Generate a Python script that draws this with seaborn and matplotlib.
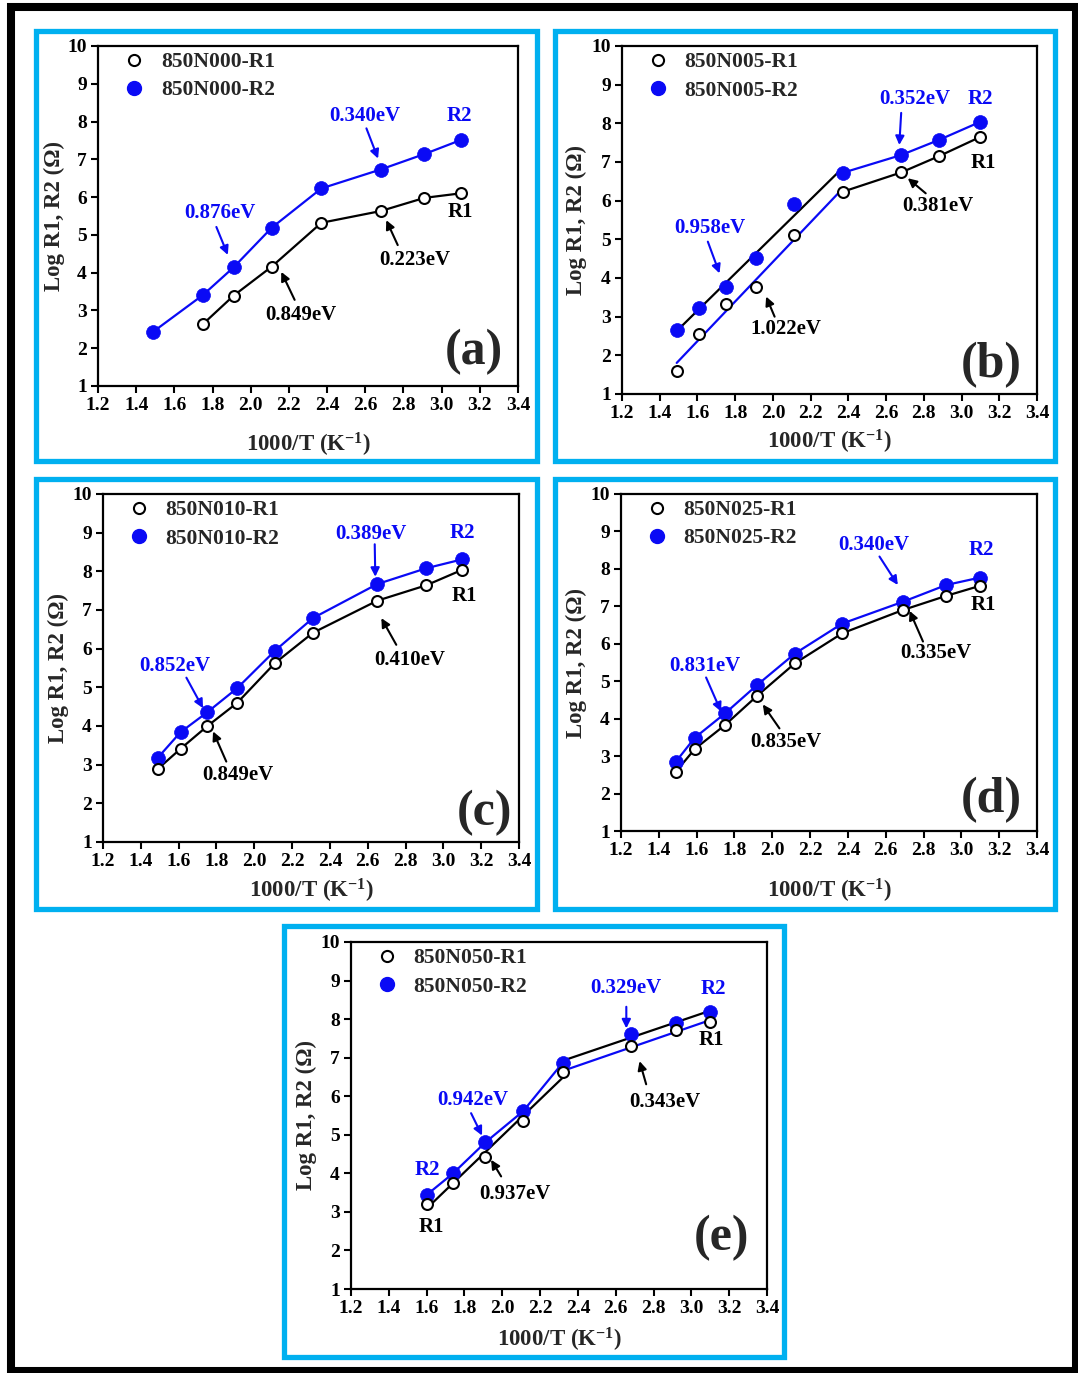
import numpy as np
import matplotlib
matplotlib.use("Agg")
import matplotlib.pyplot as plt
from matplotlib.patches import Rectangle
from matplotlib.lines import Line2D
import seaborn as sns

# ---------------- data ----------------
a_x_R1 = [1.75, 1.91, 2.11, 2.37, 2.68, 2.91, 3.10]
a_R1 = [2.64, 3.39, 4.16, 5.32, 5.63, 5.98, 6.10]
a_x_R2 = [1.49, 1.75, 1.91, 2.11, 2.37, 2.68, 2.91, 3.10]
a_R2 = [2.44, 3.41, 4.14, 5.19, 6.23, 6.73, 7.14, 7.51]

b_x = [1.49, 1.61, 1.75, 1.91, 2.11, 2.37, 2.68, 2.88, 3.10]
b_R1 = [1.60, 2.56, 3.33, 3.78, 5.11, 6.23, 6.73, 7.15, 7.65]
b_R2 = [2.66, 3.22, 3.78, 4.51, 5.91, 6.72, 7.18, 7.57, 8.04]

c_x = [1.49, 1.61, 1.75, 1.91, 2.11, 2.31, 2.65, 2.91, 3.10]
c_R1 = [2.89, 3.41, 3.99, 4.60, 5.63, 6.41, 7.24, 7.64, 8.04]
c_R2 = [3.18, 3.84, 4.35, 4.98, 5.95, 6.79, 7.67, 8.08, 8.31]

d_x = [1.49, 1.59, 1.75, 1.92, 2.12, 2.37, 2.69, 2.92, 3.10]
d_R1 = [2.58, 3.19, 3.83, 4.61, 5.48, 6.28, 6.90, 7.28, 7.55]
d_R2 = [2.85, 3.49, 4.14, 4.90, 5.74, 6.54, 7.12, 7.57, 7.77]

e_x = [1.60, 1.74, 1.91, 2.11, 2.32, 2.68, 2.92, 3.10]
e_R1 = [3.20, 3.74, 4.43, 5.36, 6.63, 7.30, 7.71, 7.93]
e_R2 = [3.44, 4.00, 4.80, 5.61, 6.87, 7.62, 7.91, 8.18]

sample_names = ["850N000", "850N005", "850N010", "850N025", "850N050"]
panel_letters = ["(a)", "(b)", "(c)", "(d)", "(e)"]
x_ticks = [1.2, 1.4, 1.6, 1.8, 2.0, 2.2, 2.4, 2.6, 2.8, 3.0, 3.2, 3.4]
y_ticks = [1, 2, 3, 4, 5, 6, 7, 8, 9, 10]

series = [
    dict(xR1=a_x_R1, R1=a_R1, xR2=a_x_R2, R2=a_R2),
    dict(xR1=b_x, R1=b_R1, xR2=b_x, R2=b_R2),
    dict(xR1=c_x, R1=c_R1, xR2=c_x, R2=c_R2),
    dict(xR1=d_x, R1=d_R1, xR2=d_x, R2=d_R2),
    dict(xR1=e_x, R1=e_R1, xR2=e_x, R2=e_R2),
]

# ---------------- styles / layout ----------------
BLUE = "#0a0af5"
CYAN = "#00b0f0"
W, H = 1078, 1373

# line segments: (series, xmin, xmax, colour, kind)
segments = [
    [("R1", 1.0, 3.5, "black", "line"), ("R2", 1.0, 3.5, BLUE, "line")],
    [("R2", 1.4, 2.4, "black", "fit"), ("R1", 1.4, 2.4, BLUE, "fit"),
     ("R2", 2.3, 3.2, BLUE, "line"), ("R1", 2.3, 3.2, "black", "line")],
    [("R1", 1.0, 3.5, "black", "line"), ("R2", 1.0, 3.5, BLUE, "line")],
    [("R1", 1.0, 3.5, "black", "line"), ("R2", 1.0, 3.5, BLUE, "line")],
    [("R1", 1.5, 2.35, "black", "fit"), ("R2", 1.5, 2.35, BLUE, "line"),
     ("R2", 2.3, 3.2, "black", "fit"), ("R1", 2.3, 3.2, BLUE, "fit")],
]

# annotations: (text, tx, ty, colour, arrow_tail, arrow_head)
annotations = [
    [("0.876eV", 1.837, 5.59, BLUE, (1.82, 5.21), (1.88, 4.47)),
     ("0.340eV", 2.597, 8.14, BLUE, (2.606, 7.82), (2.667, 7.02)),
     ("R2", 3.095, 8.14, BLUE, None, None),
     ("R1", 3.10, 5.61, "black", None, None),
     ("0.223eV", 2.859, 4.33, "black", (2.77, 4.73), (2.71, 5.39)),
     ("0.849eV", 2.265, 2.88, "black", (2.23, 3.28), (2.16, 4.02))],
    [("0.958eV", 1.664, 5.29, BLUE, (1.655, 4.94), (1.717, 4.12)),
     ("0.352eV", 2.75, 8.64, BLUE, (2.68, 8.27), (2.67, 7.44)),
     ("R2", 3.098, 8.64, BLUE, None, None),
     ("R1", 3.115, 6.98, "black", None, None),
     ("0.381eV", 2.874, 5.86, "black", (2.81, 6.19), (2.715, 6.58)),
     ("1.022eV", 2.07, 2.68, "black", (2.009, 3.0), (1.964, 3.52))],
    [("0.852eV", 1.579, 5.56, BLUE, (1.641, 5.25), (1.729, 4.46)),
     ("0.389eV", 2.619, 8.96, BLUE, (2.637, 8.70), (2.64, 7.86)),
     ("R2", 3.098, 8.98, BLUE, None, None),
     ("R1", 3.109, 7.37, "black", None, None),
     ("0.410eV", 2.822, 5.71, "black", (2.751, 6.10), (2.672, 6.79)),
     ("0.849eV", 1.914, 2.74, "black", (1.852, 3.08), (1.782, 3.86))],
    [("0.831eV", 1.641, 5.41, BLUE, (1.65, 5.10), (1.729, 4.19)),
     ("0.340eV", 2.535, 8.64, BLUE, (2.567, 8.33), (2.664, 7.57)),
     ("R2", 3.105, 8.51, BLUE, None, None),
     ("R1", 3.114, 7.04, "black", None, None),
     ("0.335eV", 2.867, 5.75, "black", (2.797, 6.06), (2.726, 6.88)),
     ("0.835eV", 2.073, 3.39, "black", (2.038, 3.74), (1.95, 4.38))],
    [("0.942eV", 1.844, 5.90, BLUE, (1.835, 5.56), (1.893, 4.98)),
     ("0.329eV", 2.656, 8.81, BLUE, (2.656, 8.32), (2.656, 7.76)),
     ("R2", 3.114, 8.79, BLUE, None, None),
     ("R2", 1.602, 4.09, BLUE, None, None),
     ("R1", 1.623, 2.60, "black", None, None),
     ("R1", 3.105, 7.45, "black", None, None),
     ("0.343eV", 2.858, 5.86, "black", (2.761, 6.31), (2.726, 6.91)),
     ("0.937eV", 2.065, 3.46, "black", (1.994, 3.92), (1.941, 4.35))],
]
letter_pos = [(3.17, 1.91), (3.157, 1.76), (3.218, 1.75), (3.158, 1.83), (3.158, 2.32)]

# axes pixel rects: left, right, top, bottom
ax_px = [(98, 518, 46, 386), (622, 1037, 46, 394), (103, 519, 494, 842),
         (621, 1037, 494, 831), (351, 767, 942, 1289)]
box_px = [(36, 537, 31, 461), (555, 1055, 31, 461), (36, 537, 479, 909),
          (555, 1055, 479, 909), (284, 784, 926, 1357)]
xlabel_y_px = [445, 442, 891, 891, 1340]
ylabel_x_px = [54, 576, 58, 576, 306]

sns.set_style("ticks")
plt.rcParams["font.family"] = ["Liberation Serif", "DejaVu Serif"]
plt.rcParams["font.weight"] = "bold"
plt.rcParams["axes.labelweight"] = "bold"
plt.rcParams["mathtext.fontset"] = "custom"
plt.rcParams["mathtext.rm"] = "Liberation Serif:bold"
plt.rcParams["mathtext.bf"] = "Liberation Serif:bold"
plt.rcParams["mathtext.default"] = "bf"

fig = plt.figure(figsize=(W / 100, H / 100), dpi=100)
fig.patch.set_facecolor("white")

# outer black frame
fig.add_artist(Rectangle((11 / W, 1 - 1371 / H), (1076 - 11) / W, (1371 - 7) / H,
                         transform=fig.transFigure, fill=False, ec="black", lw=5.8))

for i in range(5):
    l, r, t, b = ax_px[i]
    ax = fig.add_axes([l / W, 1 - b / H, (r - l) / W, (b - t) / H])
    s = series[i]

    # cyan box
    bl, br, bt, bb = box_px[i]
    fig.add_artist(Rectangle((bl / W, 1 - bb / H), (br - bl) / W, (bb - bt) / H,
                             transform=fig.transFigure, fill=False, ec=CYAN, lw=3.8))

    for (ser, lo, hi, col, kind) in segments[i]:
        xs = np.array(s["x" + ser])
        ys = np.array(s[ser])
        m = (xs >= lo) & (xs <= hi)
        if kind == "line":
            sns.lineplot(x=xs[m], y=ys[m], sort=False, color=col, lw=1.6,
                         ax=ax, zorder=2)
        else:
            sns.regplot(x=xs[m], y=ys[m], scatter=False, ci=None, truncate=True,
                        color=col, line_kws=dict(lw=1.6, zorder=2), ax=ax)

    sns.scatterplot(x=s["xR2"], y=s["R2"], color=BLUE, s=100, edgecolor=BLUE,
                    linewidth=0.5, ax=ax, zorder=3)
    sns.scatterplot(x=s["xR1"], y=s["R1"], facecolor="white", edgecolor="black",
                    s=62, linewidth=1.5, ax=ax, zorder=4)

    for (txt, tx, ty, col, tail, head) in annotations[i]:
        ax.text(tx, ty, txt, color=col, fontsize=15, fontweight="bold",
                ha="center", va="center", zorder=5)
        if tail is not None:
            ax.annotate("", xy=head, xytext=tail,
                        arrowprops=dict(arrowstyle="-|>", color=col, lw=1.5,
                                        mutation_scale=13, shrinkA=0, shrinkB=0),
                        zorder=5)
    lx, ly = letter_pos[i]
    ax.text(lx, ly, panel_letters[i], fontsize=36, fontweight="bold",
            ha="center", va="center", zorder=5)

    handles = [
        Line2D([], [], ls="none", marker="o", ms=8, mfc="white", mec="black", mew=1.5),
        Line2D([], [], ls="none", marker="o", ms=10, mfc=BLUE, mec=BLUE),
    ]
    ax.legend(handles, [sample_names[i] + "-R1", sample_names[i] + "-R2"],
              loc="upper left", bbox_to_anchor=(0.06, 0.982), frameon=False,
              fontsize=15.5, handlelength=1.0, handletextpad=0.75,
              labelspacing=0.38, borderpad=0, borderaxespad=0)

    ax.set_xlim(1.2, 3.4)
    ax.set_ylim(1, 10)
    ax.set_xticks(x_ticks)
    ax.set_xticklabels([f"{v:.1f}" for v in x_ticks])
    ax.set_yticks(y_ticks)
    ax.set_yticklabels([str(v) for v in y_ticks])
    ax.tick_params(direction="out", length=5, width=1.5, labelsize=14, pad=3,
                   colors="black")
    for sp in ax.spines.values():
        sp.set_visible(True)
        sp.set_linewidth(1.6)
        sp.set_color("black")
    ax.set_facecolor("white")

    ax.set_xlabel(r"1000/T (K$^{-1}$)", fontsize=16.5, fontweight="bold")
    ax.set_ylabel("Log R1, R2 (Ω)", fontsize=16.5, fontweight="bold")
    ax.xaxis.label.set_va("center")
    ax.yaxis.label.set_va("center")
    ax.xaxis.set_label_coords(0.5, (b - xlabel_y_px[i]) / (b - t))
    ax.yaxis.set_label_coords((ylabel_x_px[i] - l) / (r - l), 0.5)

fig.savefig("out.png", dpi=100, facecolor="white")
